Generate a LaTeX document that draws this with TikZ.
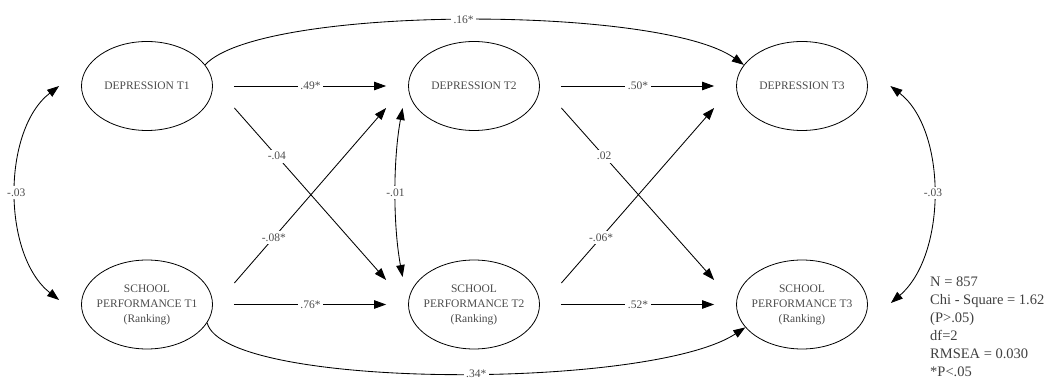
\documentclass[tikz,border=0pt]{standalone}
\usepackage{fontspec}
\setmainfont{Liberation Serif}
\usetikzlibrary{arrows.meta,calc,shapes.geometric}

\tikzset{
    latent/.style={draw, ellipse, line width=0.8pt, minimum width=131pt, minimum height=89pt, inner sep=0pt},
    inner/.style={align=center, text=black!70, font=\fontsize{11.5}{15}\selectfont},
    path/.style={-{Triangle[length=12pt,width=8.5pt]}, line width=0.85pt},
    cov/.style={{Triangle[length=12pt,width=8.5pt]}-{Triangle[length=12pt,width=8.5pt]}, line width=0.85pt},
    coef/.style={fill=white, inner sep=2.5pt, text=black!70, font=\fontsize{11.5}{13}\selectfont}
}

\begin{document}
\begin{tikzpicture}[x=1pt,y=1pt]
    \useasboundingbox (0,0) rectangle (1061,380);
    % latent variables
    \node[latent, label={[inner]center:DEPRESSION T1}] (d1) at (147,294) {};
    \node[latent, label={[inner]center:DEPRESSION T2}] (d2) at (474,294) {};
    \node[latent, label={[inner]center:DEPRESSION T3}] (d3) at (802,294) {};
    \node[latent, label={[inner]center:SCHOOL\\PERFORMANCE T1\\(Ranking)}] (s1) at (147,75.5) {};
    \node[latent, label={[inner]center:SCHOOL\\PERFORMANCE T2\\(Ranking)}] (s2) at (474,75.5) {};
    \node[latent, label={[inner]center:SCHOOL\\PERFORMANCE T3\\(Ranking)}] (s3) at (802,75.5) {};

    % stability paths
    \foreach \a/\b/\lab in {d1/d2/.49*, d2/d3/.50*, s1/s2/.76*, s2/s3/.52*}{
        \draw[path, shorten <=21pt, shorten >=22pt] (\a.east) -- (\b.west) node[coef,midway]{\lab};
    }

    % cross-lagged paths
    \foreach \a/\b/\lab in {d1/s2/-.04, d2/s3/.02}{
        \draw[path] ($(\a.east)+(21.5,-22)$) -- ($(\b.west)+(-22,24.5)$) node[coef,pos=0.28]{\lab};
    }
    \foreach \a/\b/\lab in {s1/d2/-.08*, s2/d3/-.06*}{
        \draw[path] ($(\a.east)+(21.5,21.5)$) -- ($(\b.west)+(-22,-22)$) node[coef,pos=0.26]{\lab};
    }

    % lag-2 paths
    \draw[path] (d1.20) .. controls (260,375) and (660,375) .. (d3.160) node[coef,pos=0.5]{.16*};
    \draw[path] (s1.-17) .. controls (225,-10) and (650,-10) .. (s3.202) node[coef,pos=0.54]{.34*};

    % correlations
    \draw[cov] ($(d1.west)+(-22,0)$) .. controls (2,250) and (2,125) .. ($(s1.west)+(-22,4.5)$) node[coef,pos=0.5]{-.03};
    \draw[cov] ($(d2.west)+(-5.5,-22)$) .. controls (393,220) and (393,155) .. ($(s2.west)+(-5.5,27.5)$) node[coef,pos=0.5]{-.01};
    \draw[cov] ($(d3.east)+(22.5,0)$) .. controls (947,250) and (947,125) .. ($(s3.east)+(23,1.5)$) node[coef,pos=0.5]{-.03};

    % fit indices
    \node[anchor=north west, inner sep=0pt, align=left, text=black!75, font=\fontsize{14.5}{18}\selectfont] (fit) at (930,103)
        {N = 857\\Chi - Square = 1.62\\(P>.05)\\df=2\\RMSEA = 0.030\\*P<.05};
\end{tikzpicture}
\end{document}
